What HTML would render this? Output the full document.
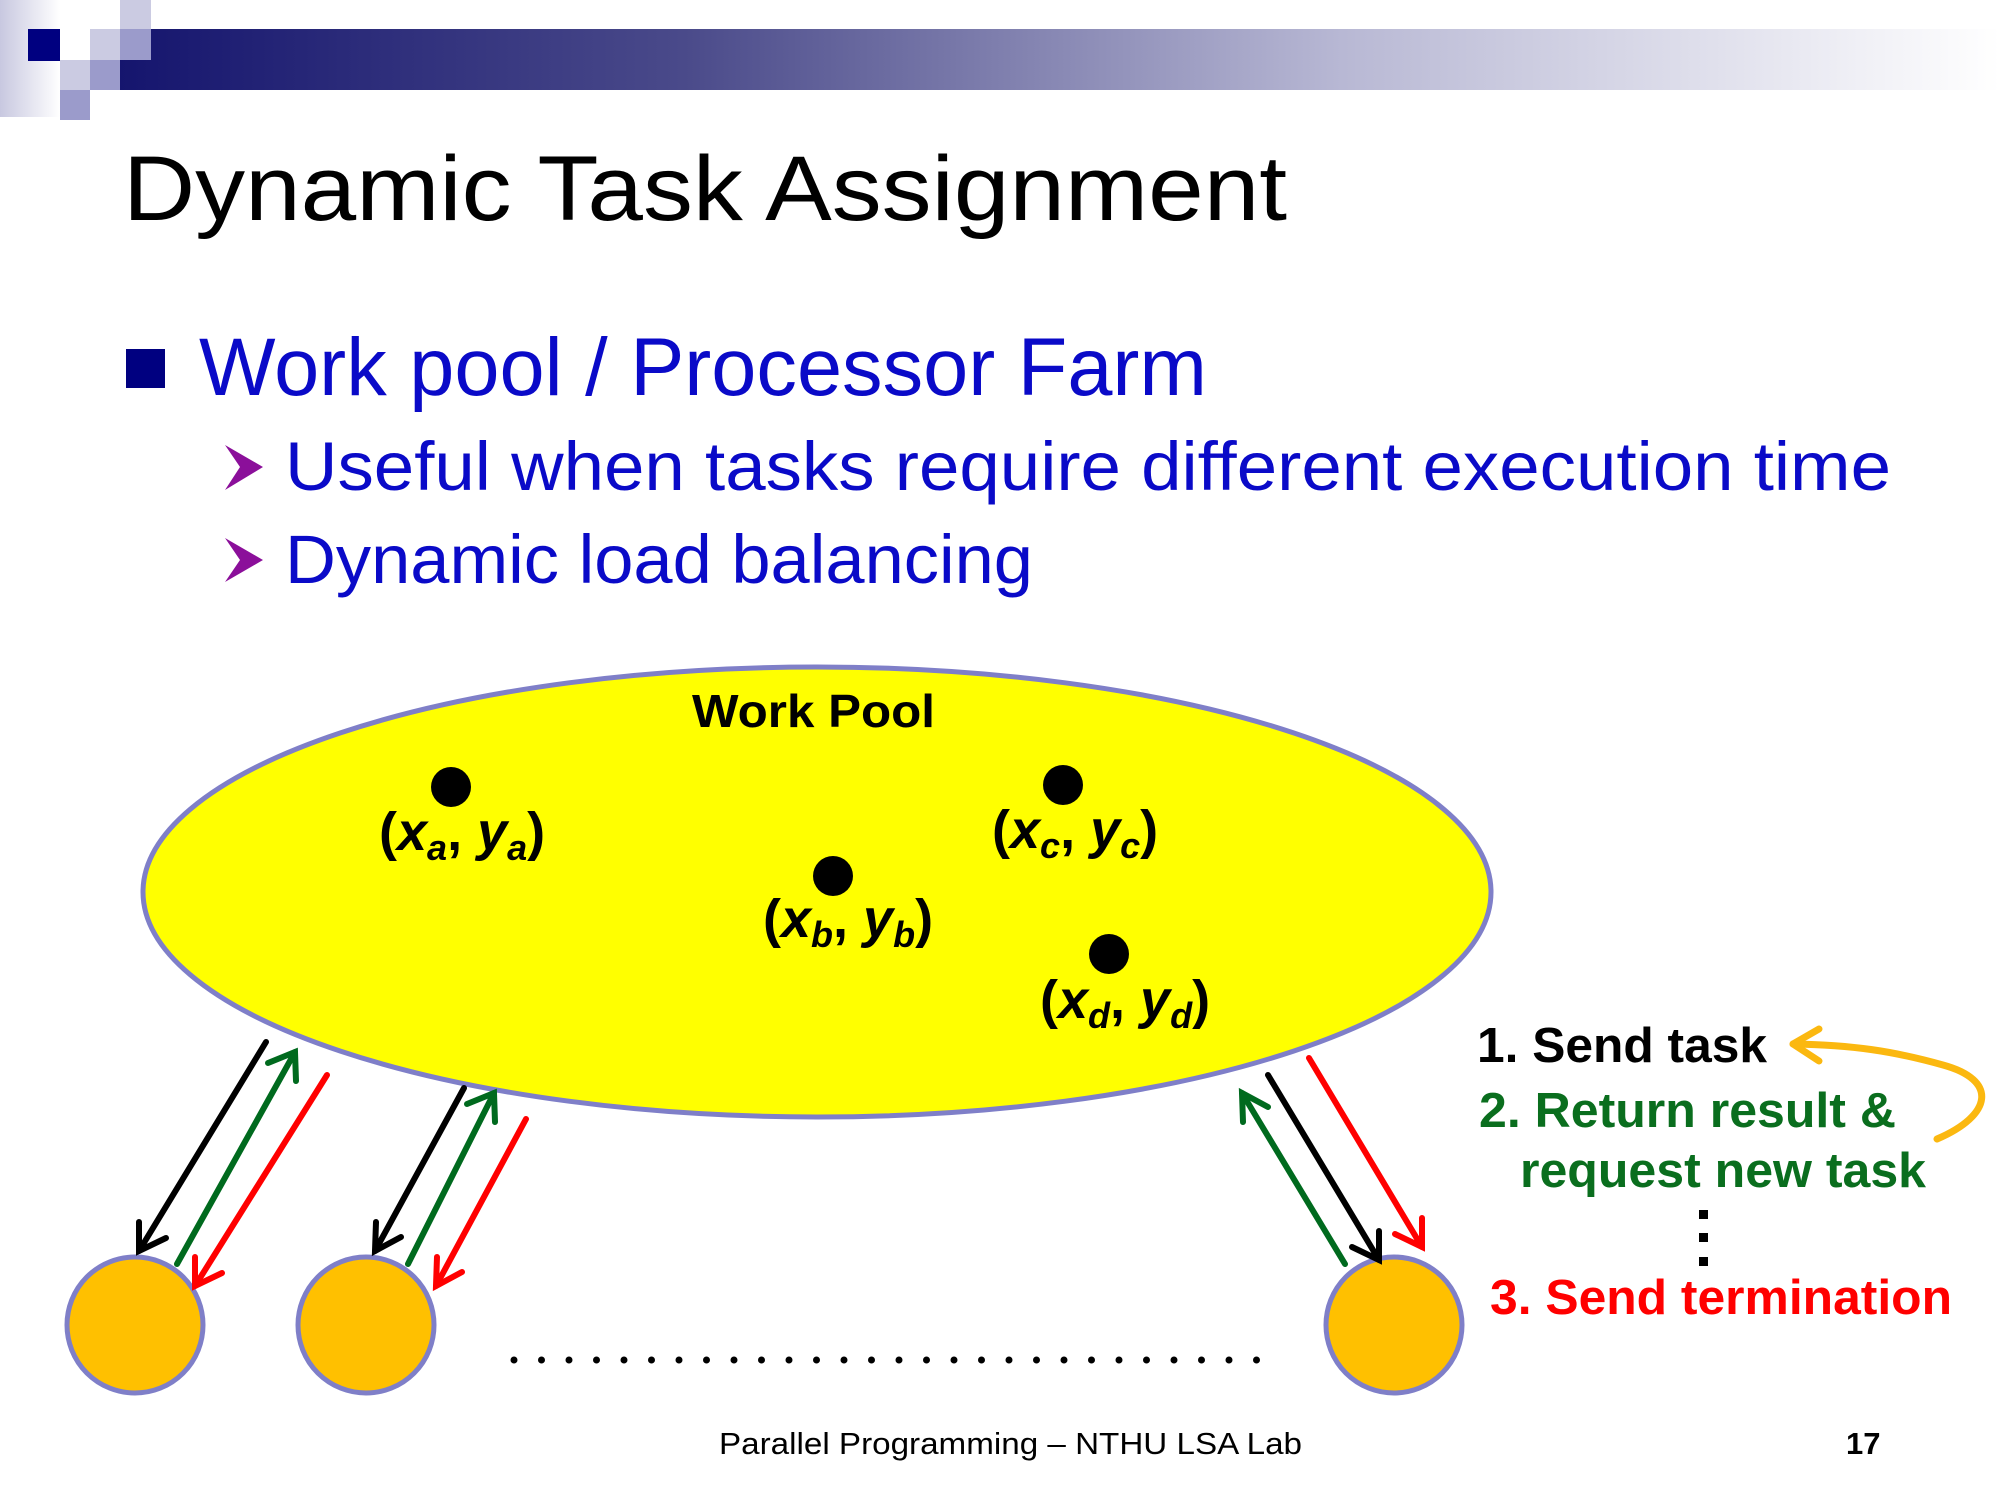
<!DOCTYPE html>
<html><head><meta charset="utf-8"><style>html,body{margin:0;padding:0;background:#fff}svg{display:block}</style></head>
<body>
<svg width="2000" height="1500" viewBox="0 0 2000 1500" xmlns="http://www.w3.org/2000/svg">
<defs>
<linearGradient id="bar" x1="0" x2="1" y1="0" y2="0">
<stop offset="0" stop-color="#15156e"/><stop offset="0.3" stop-color="#4a4a8a"/><stop offset="0.65" stop-color="#b8b8d4"/><stop offset="1" stop-color="#ffffff"/></linearGradient>
<linearGradient id="lg" x1="0" x2="1" y1="0" y2="0"><stop offset="0" stop-color="#c8c8e0"/><stop offset="1" stop-color="#ffffff"/></linearGradient>
</defs>
<rect x="0" y="0" width="60" height="117" fill="url(#lg)"/>
<rect x="120" y="29" width="1880" height="61" fill="url(#bar)"/>
<rect x="28" y="29" width="32" height="32" fill="#000080"/>
<rect x="60" y="29" width="30" height="31" fill="#fff"/>
<rect x="90" y="29" width="30" height="31" fill="#cbcbe2"/>
<rect x="120" y="0" width="31" height="29" fill="#cbcbe2"/>
<rect x="120" y="29" width="31" height="31" fill="#9b9bcb"/>
<rect x="60" y="60" width="30" height="30" fill="#cbcbe2"/>
<rect x="90" y="60" width="30" height="30" fill="#9b9bcb"/>
<rect x="60" y="90" width="30" height="30" fill="#9b9bcb"/>

<text x="123" y="220" font-family="Liberation Sans, sans-serif" font-size="92" fill="#000" textLength="1164" lengthAdjust="spacingAndGlyphs">Dynamic Task Assignment</text>
<rect x="126" y="349" width="39" height="39" fill="#000080"/>
<text x="199" y="395" font-family="Liberation Sans, sans-serif" font-size="82" fill="#0a0ac8" textLength="1008" lengthAdjust="spacingAndGlyphs">Work pool / Processor Farm</text>
<g fill="#8b0f9a"><polygon points="225,445 263,467 225,490 240,467"/><polygon points="225,538 263,560 225,582 240,560"/></g>
<text x="285" y="490" font-family="Liberation Sans, sans-serif" font-size="69" fill="#0a0ac8" textLength="1606" lengthAdjust="spacingAndGlyphs">Useful when tasks require different execution time</text>
<text x="285" y="583" font-family="Liberation Sans, sans-serif" font-size="69" fill="#0a0ac8" textLength="748" lengthAdjust="spacingAndGlyphs">Dynamic load balancing</text>

<ellipse cx="817" cy="892" rx="674" ry="225" fill="#ffff00" stroke="#7f7fc8" stroke-width="5"/>
<text x="692" y="727" font-family="Liberation Sans, sans-serif" font-weight="bold" font-size="46" fill="#000" textLength="243" lengthAdjust="spacingAndGlyphs">Work Pool</text>
<g fill="#000"><circle cx="451" cy="787" r="20"/><circle cx="1063" cy="785" r="20"/><circle cx="833" cy="876" r="20"/><circle cx="1109" cy="954" r="20"/></g>
<g font-family="Liberation Sans, sans-serif" font-weight="bold" font-size="54" fill="#000">
<text x="379" y="850">(<tspan font-style="italic">x</tspan><tspan font-style="italic" font-size="36" dy="10">a</tspan><tspan dy="-10">, </tspan><tspan font-style="italic">y</tspan><tspan font-style="italic" font-size="36" dy="10">a</tspan><tspan dy="-10">)</tspan></text>
<text x="763" y="937">(<tspan font-style="italic">x</tspan><tspan font-style="italic" font-size="36" dy="10">b</tspan><tspan dy="-10">, </tspan><tspan font-style="italic">y</tspan><tspan font-style="italic" font-size="36" dy="10">b</tspan><tspan dy="-10">)</tspan></text>
<text x="992" y="848">(<tspan font-style="italic">x</tspan><tspan font-style="italic" font-size="36" dy="10">c</tspan><tspan dy="-10">, </tspan><tspan font-style="italic">y</tspan><tspan font-style="italic" font-size="36" dy="10">c</tspan><tspan dy="-10">)</tspan></text>
<text x="1040" y="1018">(<tspan font-style="italic">x</tspan><tspan font-style="italic" font-size="36" dy="10">d</tspan><tspan dy="-10">, </tspan><tspan font-style="italic">y</tspan><tspan font-style="italic" font-size="36" dy="10">d</tspan><tspan dy="-10">)</tspan></text>
</g>

<g fill="#ffc000" stroke="#7f7fc8" stroke-width="5">
<circle cx="135" cy="1325" r="68"/><circle cx="366" cy="1325" r="68"/><circle cx="1394" cy="1325" r="68"/></g>
<line x1="514" y1="1360" x2="1283" y2="1360" stroke="#000" stroke-width="7" stroke-linecap="round" stroke-dasharray="0 27.5"/>

<g stroke-width="6" fill="none" stroke-linecap="round">
<g stroke="#000"><line x1="266" y1="1042" x2="139" y2="1251"/><line x1="464" y1="1088" x2="375" y2="1251"/><line x1="1268" y1="1075" x2="1379" y2="1260"/></g>
<g stroke="#006a1e"><line x1="177" y1="1264" x2="295" y2="1052"/><line x1="408" y1="1264" x2="494" y2="1093"/><line x1="1345" y1="1264" x2="1242" y2="1093"/></g>
<g stroke="#ff0000"><line x1="327" y1="1075" x2="195" y2="1286"/><line x1="526" y1="1119" x2="436" y2="1286"/><line x1="1309" y1="1058" x2="1422" y2="1247"/></g>
<polyline stroke="#000" points="139,1222 139,1251 166,1238"/>
<polyline stroke="#000" points="376,1222 375,1251 401,1237"/>
<polyline stroke="#000" points="1352,1247 1379,1260 1379,1231"/>
<polyline stroke="#006a1e" points="268,1063 295,1052 296,1081"/>
<polyline stroke="#006a1e" points="467,1104 494,1093 495,1122"/>
<polyline stroke="#006a1e" points="1243,1122 1242,1093 1268,1107"/>
<polyline stroke="#ff0000" points="195,1257 195,1286 222,1273"/>
<polyline stroke="#ff0000" points="437,1257 436,1286 462,1272"/>
<polyline stroke="#ff0000" points="1395,1234 1422,1247 1422,1218"/>
</g>

<g font-family="Liberation Sans, sans-serif" font-weight="bold" font-size="49">
<text x="1477" y="1062" fill="#000" textLength="290" lengthAdjust="spacingAndGlyphs">1. Send task</text>
<text x="1479" y="1127" fill="#0a6e1e" textLength="417" lengthAdjust="spacingAndGlyphs">2. Return result &amp;</text>
<text x="1520" y="1187" fill="#0a6e1e" textLength="406" lengthAdjust="spacingAndGlyphs">request new task</text>
<text x="1490" y="1314" fill="#ff0000" textLength="462" lengthAdjust="spacingAndGlyphs">3. Send termination</text>
</g>
<g fill="#000"><rect x="1699" y="1210" width="9" height="9"/><rect x="1699" y="1233" width="9" height="9"/><rect x="1699" y="1257" width="9" height="9"/></g>
<g stroke="#fbb810" stroke-width="7" fill="none" stroke-linecap="round" stroke-linejoin="round">
<path d="M1937,1139 C1993,1115 1998,1080 1943,1065 C1893,1051 1853,1045 1793,1044"/>
<polyline points="1819,1029 1793,1044 1819,1061"/>
</g>

<text x="719" y="1454" font-family="Liberation Sans, sans-serif" font-size="31" fill="#000" textLength="583" lengthAdjust="spacingAndGlyphs">Parallel Programming – NTHU LSA Lab</text>
<text x="1846" y="1454" font-family="Liberation Sans, sans-serif" font-weight="bold" font-size="31" fill="#000">17</text>
</svg>
</body></html>
